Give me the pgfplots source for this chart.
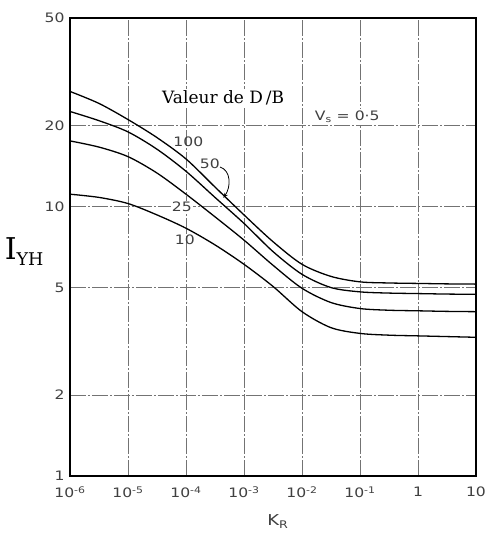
\documentclass[border=0pt]{standalone}
\usepackage{pgfplots}
\pgfplotsset{compat=1.18}
\usepackage{fontspec}
\setmainfont{Liberation Sans}
\newfontfamily\seriff{DejaVu Serif}
\newfontfamily\tickfont{DejaVu Sans}[FakeStretch=1.2]
\usetikzlibrary{arrows.meta}

\begin{document}
\begin{tikzpicture}
\useasboundingbox (-70pt,-58pt) rectangle (418pt,476pt);
\begin{axis}[
  at={(0pt,0pt)}, anchor=south west,
  width=406pt, height=458pt, scale only axis,
  xmode=log, ymode=log,
  xmin=1e-6, xmax=10, ymin=1, ymax=50,
  xtick={1e-6,1e-5,1e-4,1e-3,1e-2,1e-1,1,10},
  xticklabels={10\textsuperscript{-6},10\textsuperscript{-5},10\textsuperscript{-4},10\textsuperscript{-3},10\textsuperscript{-2},10\textsuperscript{-1},1,10},
  ytick={1,2,5,10,20,50},
  yticklabels={1,2,5,10,20,50},
  xminorticks=false, yminorticks=false,
  grid=major,
  major grid style={black!55, line width=0.7pt, dash pattern=on 16pt off 2pt on 2pt off 2pt},
  axis line style={line width=1.8pt},
  major tick length=0pt,
  ticklabel style={font=\tickfont\fontsize{13}{15}\selectfont, text=black!75},
  xticklabel style={yshift=-7pt},
  yticklabel style={xshift=-2pt},
  xlabel={K\textsubscript{R}},
  xlabel style={font=\tickfont\fontsize{15}{17}\selectfont, text=black!75, at={(axis description cs:0.512,-0.1)}, anchor=center},
  ylabel={{\seriff\fontsize{30}{31}\selectfont I}{\seriff\fontsize{17.5}{18}\selectfont\raisebox{-6pt}{YH}}},
  ylabel style={rotate=-90, at={(axis description cs:-0.113,0.49)}, anchor=center},
  clip=false,
]
% D/B = 100
\addplot[smooth, line width=1.3pt, black] coordinates {
 (1e-6,26.7) (3.162e-6,24.1) (1e-5,21.0) (3.162e-5,18.0) (1e-4,15.0) (3.162e-4,11.8)
 (1e-3,9.3) (3.162e-3,7.4) (1e-2,6.1) (3.162e-2,5.5) (1e-1,5.25) (3.162e-1,5.2)
 (1,5.18) (3.162,5.16) (10,5.15)};
% D/B = 50
\addplot[smooth, line width=1.3pt, black] coordinates {
 (1e-6,22.5) (3.162e-6,20.8) (1e-5,18.9) (3.162e-5,16.3) (1e-4,13.5) (3.162e-4,10.8)
 (1e-3,8.65) (3.162e-3,6.8) (1e-2,5.6) (3.162e-2,5.0) (1e-1,4.82) (3.162e-1,4.77)
 (1,4.75) (3.162,4.73) (10,4.72)};
% D/B = 25
\addplot[smooth, line width=1.3pt, black] coordinates {
 (1e-6,17.5) (3.162e-6,16.6) (1e-5,15.3) (3.162e-5,13.3) (1e-4,11.1) (3.162e-4,9.15)
 (1e-3,7.5) (3.162e-3,6.05) (1e-2,4.97) (3.162e-2,4.4) (1e-1,4.18) (3.162e-1,4.12)
 (1,4.1) (3.162,4.08) (10,4.07)};
% D/B = 10
\addplot[smooth, line width=1.3pt, black] coordinates {
 (1e-6,11.1) (3.162e-6,10.8) (1e-5,10.25) (3.162e-5,9.3) (1e-4,8.3) (3.162e-4,7.2)
 (1e-3,6.1) (3.162e-3,5.05) (1e-2,4.07) (3.162e-2,3.55) (1e-1,3.38) (3.162e-1,3.33)
 (1,3.31) (3.162,3.29) (10,3.27)};

\node[font=\seriff\fontsize{17}{20}\selectfont, fill=white, inner sep=2pt] at (axis cs:4.37e-4,25.2) {Valeur de D\,/B};
\node[font=\tickfont\fontsize{13}{15}\selectfont, text=black!75, fill=white, inner sep=2pt] at (axis cs:0.0603,21.5) {V\textsubscript{s} = 0·5};
\node[font=\tickfont\fontsize{13}{15}\selectfont, text=black!75] at (axis cs:1.096e-4,17.4) {100};
\node[font=\tickfont\fontsize{13}{15}\selectfont, text=black!75] at (axis cs:2.57e-4,14.4) {50};
\node[font=\tickfont\fontsize{13}{15}\selectfont, text=black!75, fill=white, inner sep=1pt] at (axis cs:8.5e-5,9.97) {25};
\node[font=\tickfont\fontsize{13}{15}\selectfont, text=black!75] at (axis cs:9.55e-5,7.5) {10};
\draw[-{Stealth[length=5pt]}, line width=0.8pt] (axis cs:3.86e-4,14.0) .. controls (axis cs:6.0e-4,13.6) and (axis cs:6.0e-4,11.8) .. (axis cs:4.4e-4,10.75);
\end{axis}
\end{tikzpicture}
\end{document}
